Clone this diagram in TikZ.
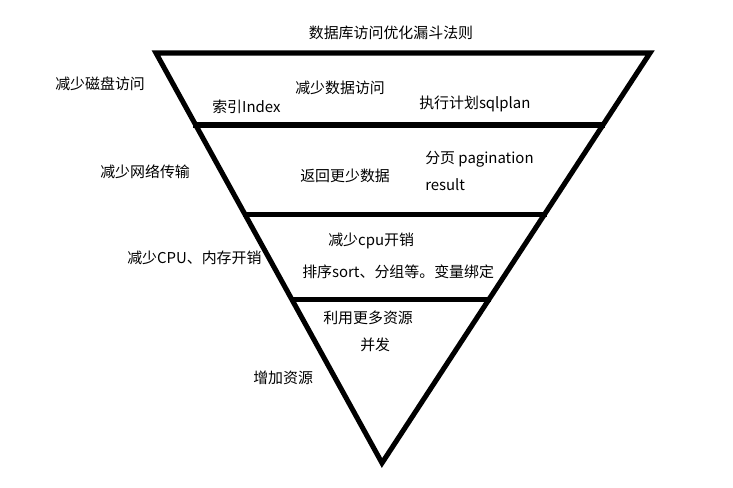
\documentclass[tikz,border=0pt]{standalone}
\usepackage{fontspec}
\setmainfont{Noto Sans CJK SC}
\usetikzlibrary{calc}
\usetikzlibrary{positioning}
\tikzset{funnel/.style={line width=3.8pt, line join=miter, line cap=rect}}
\tikzset{lbl/.style={anchor=west, inner sep=0pt, font=\fontsize{11.2pt}{13pt}\selectfont}}

\begin{document}
\begin{tikzpicture}[x=0.75pt,y=-0.75pt]
\useasboundingbox (0,0) rectangle (733,487);

\coordinate (TL) at (156,53);
\coordinate (TR) at (650,53);
\coordinate (AP) at (382,463);

% the funnel
\draw[funnel] (TL) -- (TR) -- (AP) -- cycle;
\draw[funnel] ($(TL)!0.1756!(AP)$) -- ($(TR)!0.1756!(AP)$);
\draw[funnel] ($(TL)!0.395!(AP)$)  -- ($(TR)!0.395!(AP)$);
\draw[funnel] ($(TL)!0.602!(AP)$)  -- ($(TR)!0.602!(AP)$);

\node[lbl, anchor=center] (title) at (391,33) {数据库访问优化漏斗法则};

% level 1
\node[lbl] (L1)  at (55,84)   {减少磁盘访问};
\node[lbl] (L1a) at (295,88)  {减少数据访问};
\node[lbl] (L1b) at (212,107) {索引Index};
\node[lbl] (L1c) at (419,104) {执行计划sqlplan};

% level 2
\node[lbl] (L2)  at (100,172) {减少网络传输};
\node[lbl] (L2a) at (300,176) {返回更少数据};
\node[lbl] (L2b) at (425,159) {分页 pagination};
\node[lbl] (L2c) at (425,185) {result};

% level 3
\node[lbl] (L3)  at (127,258) {减少CPU、内存开销};
\node[lbl] (L3a) at (328,241) {减少cpu开销};
\node[lbl] (L3b) at (302,272) {排序sort、分组等。变量绑定};

% level 4
\node[lbl] (L4)  at (253,378) {增加资源};
\node[lbl] (L4a) at (323,318) {利用更多资源};
\node[lbl] (L4b) at (360,345) {并发};

\end{tikzpicture}
\end{document}
